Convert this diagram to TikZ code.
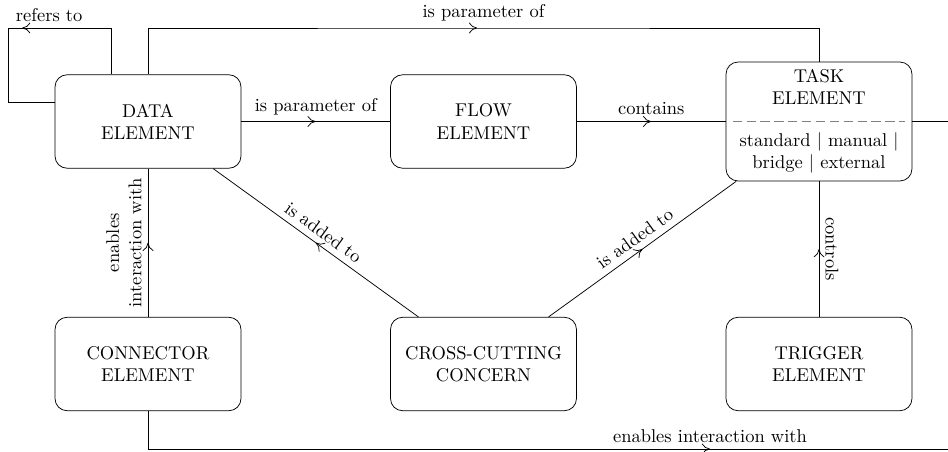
\documentclass[tikz,border=0pt]{standalone}
\usetikzlibrary{calc,decorations.markings,arrows.meta}
\begin{document}
\begin{tikzpicture}[x=0.5405pt,y=-0.5405pt,
  block/.style={draw, rounded corners=6.5pt, minimum width=100.5pt,
    minimum height=50.5pt, align=center, inner sep=2pt},
  midarrow/.style={postaction={decorate,decoration={markings,
    mark=at position #1 with {\arrow{Computer Modern Rightarrow[length=4.4pt,width=5.8pt]}}}}},
  midarrow/.default=0.5]
\useasboundingbox (0,0) rectangle (948,452);

% element boxes
\node[block] (data) at (148,121.5) {DATA\\ELEMENT};
\node[block] (flow) at (483.5,121.5) {FLOW\\ELEMENT};
\node[block, minimum height=64.3pt] (task) at (819,121.5) {};
\node[align=center] (tasktitle) at (819,87) {TASK\\ELEMENT};
\node[align=center] (tasktypes) at (819,153) {standard | manual |\\bridge | external};
\draw[gray, dash pattern=on 5pt off 2.5pt]
  ($(task.west)+(7,0)$) -- ($(task.east)+(-7,0)$);
\node[block] (conn) at (148,364) {CONNECTOR\\ELEMENT};
\node[block] (ccc) at (483.5,364) {CROSS-CUTTING\\CONCERN};
\node[block] (trig) at (819,364) {TRIGGER\\ELEMENT};

% self reference of data elements
\coordinate (loopA) at ($(data.north)+(-37,0)$);
\coordinate (loopB) at (8,28);
\coordinate (loopC) at ($(data.north west)+(0,28)$);
\draw[midarrow] (loopA) |- (loopB) |- (loopC);
\path (loopB) -- (loopA |- loopB) node[pos=0.4, above] (lrefers) {refers to};

% data element as parameter of a task
\coordinate (topmid) at (483.5,28);
\draw[midarrow] (data.north) |- (topmid) -| (task.north);
\node[above] (ltop) at (topmid) {is parameter of};

% horizontal relations
\draw[midarrow] (data) -- node[above] {is parameter of} (flow);
\draw[midarrow] (flow) -- node[above] {contains} (task);
\coordinate (taskR) at (948,121.5);
\draw (task.east) -- (taskR);

% vertical relations
\draw[midarrow] (conn) -- node[midway, rotate=90, above, align=center]
  {enables\\interaction with} (data);
\draw[midarrow] (trig) -- node[midway, rotate=-90, above] {controls} (task);

% cross-cutting concern
\draw[midarrow] (ccc) -- node[sloped, above] {is added to} (data);
\draw[midarrow] (ccc) -- node[sloped, above] {is added to} (task);

% connector interaction along the bottom
\coordinate (bottomR) at (948,449);
\draw[midarrow=0.716] (conn.south) |- (bottomR);
\node[above] (lbottom) at (710,449) {enables interaction with};
\end{tikzpicture}
\end{document}
